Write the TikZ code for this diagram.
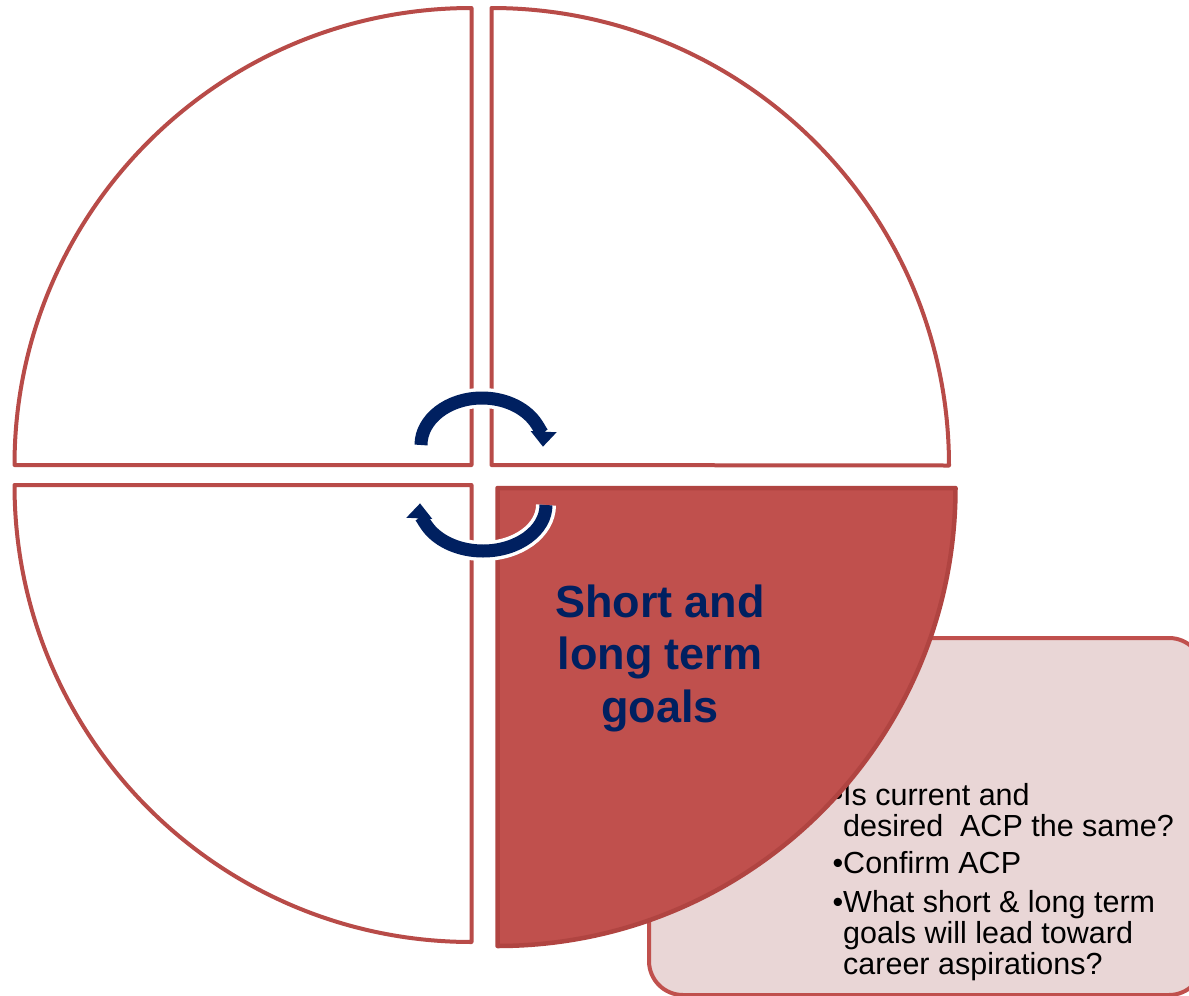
\documentclass[tikz,border=0pt]{standalone}
\usepackage{fontspec}
\setmainfont{Liberation Sans}
\usetikzlibrary{arrows.meta}
\definecolor{qline}{HTML}{B84B48}
\definecolor{qfill}{HTML}{C0504D}
\definecolor{qdark}{HTML}{B04441}
\definecolor{boxfill}{HTML}{E9D6D6}
\definecolor{boxline}{HTML}{C0504D}
\definecolor{navy}{HTML}{002060}
\begin{document}
\begin{tikzpicture}[x=1pt,y=1pt,
  quad/.style={draw=qline, line width=4pt, line join=round},
  quadfull/.style={draw=qdark, fill=qfill, line width=4.5pt, line join=round},
  infobox/.style={draw=boxline, fill=boxfill, line width=4pt, rounded corners=34pt,
    minimum width=554pt, minimum height=357pt, inner sep=0pt, anchor=north west},
  bodytext/.style={font=\fontsize{30.5}{31}\selectfont, text=black, align=left, inner sep=0pt, anchor=base west},
  titletext/.style={font=\bfseries\fontsize{45}{52.5}\selectfont, text=navy, align=center, inner sep=0pt, anchor=base},
  cyclearrow/.style={draw=navy, line width=13pt, -{Triangle[width=26pt,length=15pt,line width=0pt]}},
  halo/.style={draw=white, line width=20pt}
]
\useasboundingbox (0,0) rectangle (1189,-996);
\fill[white] (0,0) rectangle (1189,-996);

% info box behind the filled quadrant
\node[infobox] (box) at (647,-636) {};
\newcommand{\bul}{\makebox[10.5pt][l]{•}}
\node[bodytext] (q1) at (832.5,-836.7) {\bul Is current and\\\hspace*{10.5pt}desired~ ACP the same?};
\node[bodytext] (q2) at (832.5,-873) {\bul Confirm ACP};
\node[bodytext] (q3) at (832.5,-974) {\bul What short \& long term\\\hspace*{10.5pt}goals will lead toward\\\hspace*{10.5pt}career aspirations?};

% quadrants
\draw[quad] (471.5,-465) -- (14.5,-465) arc[start angle=180, end angle=90, radius=457] -- cycle;
\draw[quad] (491.5,-465) -- (491.5,-8) arc[start angle=90, end angle=0, radius=457.5] -- cycle;
\draw[quad] (471.5,-485) -- (14.5,-485) arc[start angle=180, end angle=270, radius=457] -- cycle;
\draw[quadfull] (497.5,-488) -- (955.5,-488) arc[start angle=0, end angle=-90, radius=458] -- cycle;

\node[titletext] (title) at (660,-722) {Short and\\long term\\goals};

% cycle arrows
\path[halo] (421,-445) arc[start angle=180, end angle=8, x radius=61, y radius=47];
\path[cyclearrow] (421,-445) arc[start angle=180, end angle=-2, x radius=61, y radius=47];
\path[halo] (546,-505) arc[start angle=0, end angle=-172, x radius=63, y radius=46];
\path[cyclearrow] (546,-505) arc[start angle=0, end angle=-182, x radius=63, y radius=46];
\end{tikzpicture}
\end{document}
